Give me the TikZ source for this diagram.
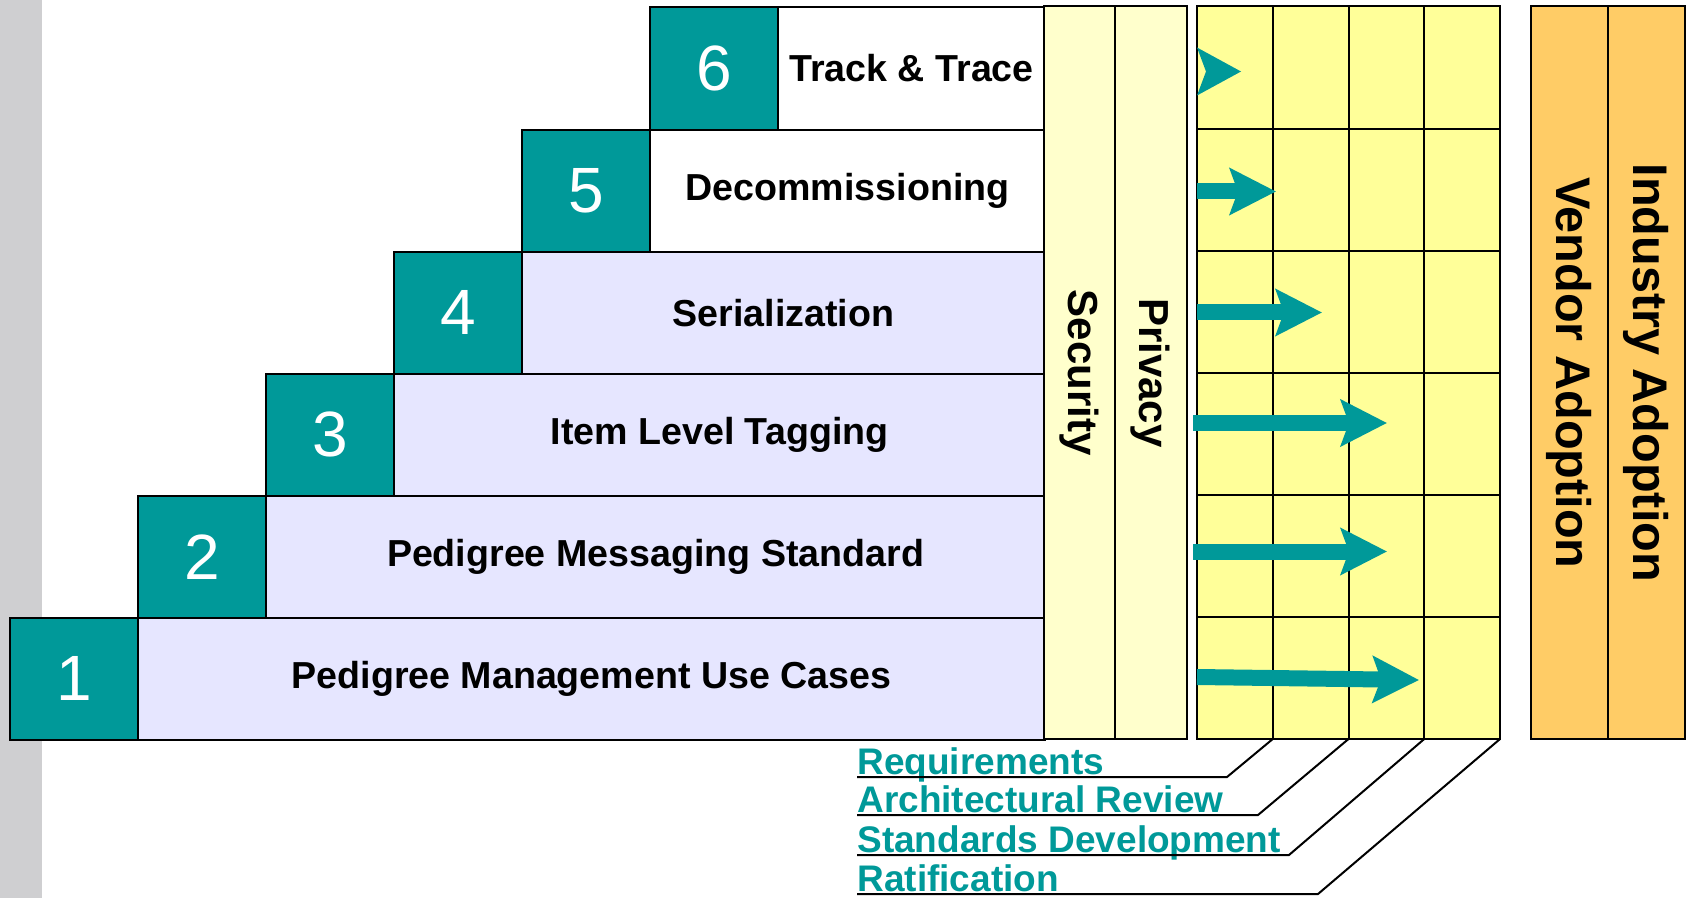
\documentclass[tikz,border=0pt]{standalone}
\usepackage{fontspec}
\setmainfont{Liberation Sans}
\usetikzlibrary{arrows.meta}

\definecolor{tealbox}{HTML}{009999}
\definecolor{stepblue}{HTML}{E6E6FF}
\definecolor{paleyellow}{HTML}{FFFFCC}
\definecolor{gridyellow}{HTML}{FFFF99}
\definecolor{adoptorange}{HTML}{FFCC66}
\definecolor{stripgray}{HTML}{CFCFD1}

\tikzset{
    numcell/.style={draw, line width=1pt, fill=tealbox, text=white, anchor=north west, inner sep=0pt,
        minimum width=64pt, minimum height=61.04pt, font=\fontsize{32}{38}\selectfont},
    stepcell/.style={draw, line width=1pt, anchor=north west, inner sep=0pt,
        minimum height=61.04pt, font=\bfseries\fontsize{18.8}{22}\selectfont},
    colbox/.style={draw, line width=1pt, rotate=-90, inner sep=0pt, minimum width=366.25pt},
    phaselabel/.style={anchor=base west, inner sep=0pt, text=tealbox,
        font=\bfseries\fontsize{18.5}{22}\selectfont},
    flow/.style={tealbox, line width=8pt, -{Stealth[length=23pt, width=23pt, inset=4pt]}}
}

\begin{document}
\begin{tikzpicture}[x=0.5pt, y=-0.5pt]
    \useasboundingbox (0,0) rectangle (1695,898);
    \fill[stripgray] (0,0) rectangle (42,898);

    % Stufen
    \node[numcell] (num1) at (9,616.9) {1};
    \node[stepcell, fill=stepblue, minimum width=453.5pt] (step1) at (137,616.9) {Pedigree Management Use Cases};
    \node[numcell] (num2) at (137,494.8) {2};
    \node[stepcell, fill=stepblue, minimum width=389.5pt] (step2) at (265,494.8) {Pedigree Messaging Standard};
    \node[numcell] (num3) at (265,372.75) {3};
    \node[stepcell, fill=stepblue, minimum width=325.5pt] (step3) at (393,372.75) {Item Level Tagging};
    \node[numcell] (num4) at (393,250.7) {4};
    \node[stepcell, fill=stepblue, minimum width=261.5pt] (step4) at (521,250.7) {Serialization};
    \node[numcell] (num5) at (521,128.6) {5};
    \node[stepcell, fill=white, minimum width=197.5pt] (step5) at (649,128.6) {Decommissioning};
    \node[numcell] (num6) at (649,6.5) {6};
    \node[stepcell, fill=white, minimum width=133.5pt] (step6) at (777,6.5) {Track \& Trace};

    % Querschnitt
    \node[colbox, fill=paleyellow, minimum height=35.5pt, font=\bfseries\fontsize{21}{25}\selectfont] (sec) at (1079.5,372.75) {Security};
    \node[colbox, fill=paleyellow, minimum height=35.75pt, font=\bfseries\fontsize{21}{25}\selectfont] (priv) at (1150.75,372.75) {Privacy};

    % Phasenraster
    \fill[gridyellow] (1197,6.5) rectangle (1500,739);
    \foreach \x in {1272.75,1348.5,1424.25}
        \draw[line width=1pt] (\x,6.5) -- (\x,739);
    \foreach \y in {128.6,250.7,372.75,494.8,616.9}
        \draw[line width=1pt] (1197,\y) -- (1500,\y);
    \draw[line width=1pt] (1197,6.5) rectangle (1500,739);

    \fill[tealbox] (1197,47.5) -- (1241,71.5) -- (1197,95.5) -- (1206,71.5) -- cycle;
    \draw[flow] (1197,191.5) -- (1276,191.5);
    \draw[flow] (1197,312.5) -- (1322,312.5);
    \draw[flow] (1193,423) -- (1387,423);
    \draw[flow] (1193,551.5) -- (1387,551.5);
    \draw[flow] (1197,677) -- (1419,680);

    % Akzeptanz
    \node[colbox, fill=adoptorange, minimum height=38.75pt, font=\bfseries\fontsize{24.3}{28}\selectfont] (vendor) at (1569.25,372.75) {Vendor Adoption};
    \node[colbox, fill=adoptorange, minimum height=38.5pt, font=\bfseries\fontsize{24.3}{28}\selectfont] (industry) at (1646.5,372.75) {Industry Adoption};

    % Phasen unten
    \coordinate (c1) at (1272.75,739);
    \coordinate (c2) at (1348.5,739);
    \coordinate (c3) at (1424.25,739);
    \coordinate (c4) at (1500,739);
    \node[phaselabel] (req) at (857,774) {Requirements};
    \node[phaselabel] (arch) at (857,812) {Architectural Review};
    \node[phaselabel] (stand) at (857,852) {Standards Development};
    \node[phaselabel] (rat) at (857,891) {Ratification};
    \draw[line width=1pt] (c1) -- (1227,777) -- ([yshift=-1.5pt]req.base west);
    \draw[line width=1pt] (c2) -- (1258,815) -- ([yshift=-1.5pt]arch.base west);
    \draw[line width=1pt] (c3) -- (1289,855) -- ([yshift=-1.5pt]stand.base west);
    \draw[line width=1pt] (c4) -- (1318,894) -- ([yshift=-1.5pt]rat.base west);
\end{tikzpicture}
\end{document}
